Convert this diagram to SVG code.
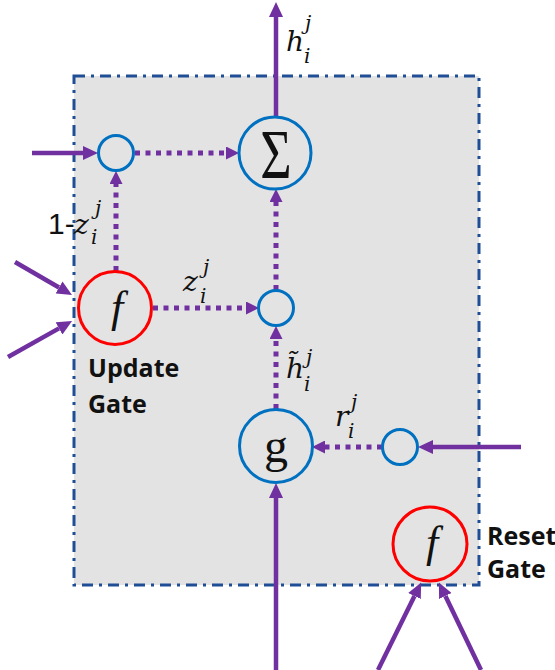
<svg xmlns="http://www.w3.org/2000/svg" width="555" height="670" viewBox="0 0 555 670">
  <style>
    .box { fill: #E3E3E3; stroke: #1F4E96; stroke-width: 3; stroke-dasharray: 11 6 3 6; }
    .blue { fill: none; stroke: #0070C0; stroke-width: 3; }
    .red { fill: none; stroke: #FF0000; stroke-width: 3; }
    .solid { fill: none; stroke: #7030A0; stroke-width: 4.5; }
    .dot { fill: none; stroke: #7030A0; stroke-width: 5; stroke-dasharray: 5 5.5; }
    .m { font-family: "DejaVu Serif", "Liberation Serif", serif; font-style: italic; font-size: 28px; fill: #111; }
    .s { font-family: "DejaVu Serif", "Liberation Serif", serif; font-style: italic; font-size: 20px; fill: #111; }
    .sym { font-family: "Liberation Serif", "Times New Roman", serif; fill: #111; text-anchor: middle; }
    .lbl { font-family: "Open Sans", "Liberation Sans", sans-serif; font-weight: bold; font-size: 25px; fill: #111; }
  </style>
  <defs>
    <marker id="ah" viewBox="0 -7 15 14" refX="0" refY="0" markerWidth="15" markerHeight="14" markerUnits="userSpaceOnUse" orient="auto">
      <path d="M0,-7 L15,0 L0,7 z" fill="#7030A0"/>
    </marker>
    <marker id="ahd" viewBox="0 -6.5 13 13" refX="0" refY="0" markerWidth="13" markerHeight="13" markerUnits="userSpaceOnUse" orient="auto">
      <path d="M0,-6.5 L13,0 L0,6.5 z" fill="#7030A0"/>
    </marker>
  </defs>

  <g id="cell">
    <rect class="box" x="74" y="76" width="405" height="509"/>
  </g>

  <g id="connectors">
    <line class="solid" x1="276" y1="117" x2="276" y2="17" marker-end="url(#ah)"/>
    <line class="solid" x1="32" y1="153" x2="83" y2="153" marker-end="url(#ah)"/>
    <line class="dot" x1="135" y1="153" x2="226" y2="153" marker-end="url(#ahd)"/>
    <line class="dot" x1="116" y1="271" x2="116" y2="184" marker-end="url(#ahd)"/>
    <line class="dot" x1="153" y1="308" x2="246" y2="308" marker-end="url(#ahd)"/>
    <line class="dot" x1="276" y1="290" x2="276" y2="202" marker-end="url(#ahd)"/>
    <line class="dot" x1="276" y1="409" x2="276" y2="339" marker-end="url(#ahd)"/>
    <line class="dot" x1="382" y1="447" x2="325" y2="447" marker-end="url(#ahd)"/>
    <line class="solid" x1="521" y1="447" x2="433" y2="447" marker-end="url(#ah)"/>
    <line class="solid" x1="276" y1="670" x2="276" y2="498" marker-end="url(#ah)"/>
    <line class="solid" x1="15" y1="262" x2="59" y2="287.5" marker-end="url(#ah)"/>
    <line class="solid" x1="8" y1="357" x2="59" y2="328.4" marker-end="url(#ah)"/>
    <line class="solid" x1="378" y1="670" x2="414.5" y2="596" marker-end="url(#ah)"/>
    <line class="solid" x1="481" y1="670" x2="445.4" y2="596" marker-end="url(#ah)"/>
  </g>

  <g id="sum">
    <circle class="blue" cx="275" cy="153" r="36"/>
    <text class="sym" font-size="54" transform="translate(276,178) scale(1,1.3)">Σ</text>
  </g>
  <g id="mul-top">
    <circle class="blue" cx="116" cy="153" r="17.5"/>
  </g>
  <g id="mul-mid">
    <circle class="blue" cx="276" cy="308" r="17.5"/>
  </g>
  <g id="mul-reset">
    <circle class="blue" cx="400" cy="447" r="17.5"/>
  </g>
  <g id="update-gate">
    <circle class="red" cx="115" cy="308" r="36.5"/>
    <text class="sym" font-size="44" font-style="italic" x="117" y="322">f</text>
    <text class="lbl" x="88" y="377">Update</text>
    <text class="lbl" x="88" y="413">Gate</text>
  </g>
  <g id="g-node">
    <circle class="blue" cx="276" cy="446" r="36.5"/>
    <text class="sym" font-size="48" x="276" y="462">g</text>
  </g>
  <g id="reset-gate">
    <circle class="red" cx="430" cy="544" r="37"/>
    <text class="sym" font-size="44" font-style="italic" x="432" y="557">f</text>
    <text class="lbl" x="487" y="545">Reset</text>
    <text class="lbl" x="487" y="578">Gate</text>
  </g>

  <g id="labels">
    <text class="m" x="286" y="51">h</text>
    <text class="s" x="304" y="63">i</text>
    <text class="s" x="305" y="30">j</text>

    <text font-family="Liberation Sans, Arial, sans-serif" font-size="30" fill="#111" x="48" y="234">1-</text>
    <text class="m" x="74" y="234">z</text>
    <text class="s" x="91" y="244">i</text>
    <text class="s" x="95" y="215">j</text>

    <text class="m" x="183" y="291">z</text>
    <text class="s" x="200" y="303">i</text>
    <text class="s" x="203" y="274">j</text>

    <text class="m" x="286" y="378">h̃</text>
    <text class="s" x="304" y="391">i</text>
    <text class="s" x="306" y="364">j</text>

    <text class="m" x="335" y="426">r</text>
    <text class="s" x="348" y="438">i</text>
    <text class="s" x="351" y="409">j</text>
  </g>
</svg>
